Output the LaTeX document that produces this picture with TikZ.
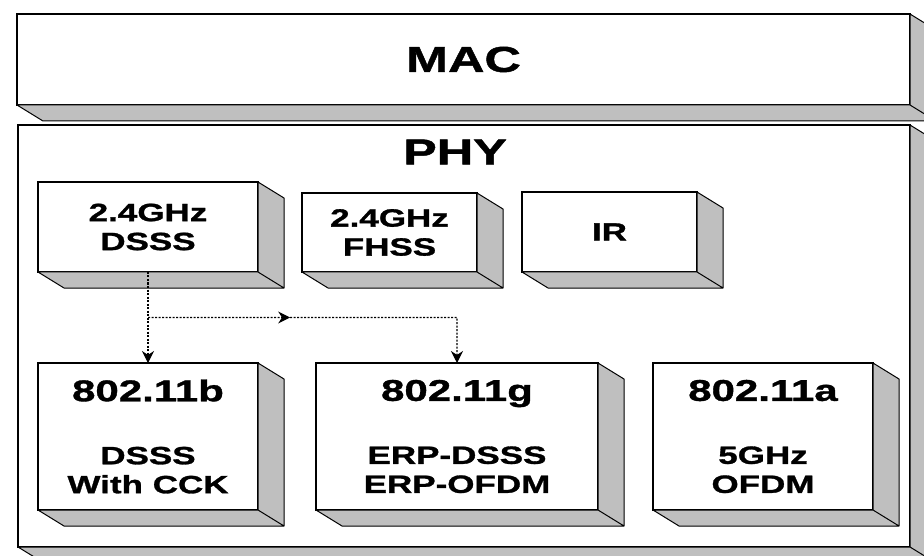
\documentclass[tikz,border=0pt]{standalone}
\usepackage{fontspec}
\setmainfont{Liberation Sans}[FakeStretch=1.4,FakeBold=1.2]
\usetikzlibrary{arrows.meta,positioning,calc}
\definecolor{ScanGray}{HTML}{BFBFBF}

\begin{document}
\begin{tikzpicture}[x=1pt,y=-1pt,
    layer/.style={
      draw,
      fill=white,
      line width=1.6pt,
      inner sep=0pt,
      outer sep=0pt,
      font=\bfseries\fontsize{36}{40}\selectfont
    },
    block/.style={
      draw,
      fill=white,
      line width=1.6pt,
      inner sep=0pt,
      outer sep=0pt,
      align=center,
      font=\bfseries\fontsize{25}{29}\selectfont
    },
    face/.style={fill=ScanGray,draw=black,line width=1pt,line join=round},
    link/.style={line width=1.1pt,dash pattern=on 2pt off 1.5pt,
      -{Stealth[length=12pt,width=12pt]}}
  ]
    \useasboundingbox (0,0) rectangle (924,556);

    % MAC layer
    \node[layer,minimum width=893pt,minimum height=91pt] (mac) at (463.5,59.5) {MAC};

    % PHY layer
    \node[layer,minimum width=892pt,minimum height=422pt] (phy) at (464,336) {};
    \node[font=\bfseries\fontsize{36}{40}\selectfont] (phylbl) at (455,152) {PHY};

    % Legacy PHYs
    \node[block,minimum width=220pt,minimum height=90pt] (dsss) at (148,227) {2.4GHz\\DSSS};
    \node[block,minimum width=175pt,minimum height=79pt] (fhss) at (389.5,232.5) {2.4GHz\\FHSS};
    \node[block,minimum width=175pt,minimum height=80pt] (ir) at (609.5,232) {IR};

    % 802.11 amendments
    \node[block,minimum width=220pt,minimum height=147pt] (b) at (148,436.5) {
      {\fontsize{30}{34}\selectfont 802.11b}\\[34pt]
      DSSS\\With CCK};
    \node[block,minimum width=282pt,minimum height=147pt] (g) at (457,436.5) {
      {\fontsize{30}{34}\selectfont 802.11g}\\[34pt]
      ERP-DSSS\\ERP-OFDM};
    \node[block,minimum width=220pt,minimum height=147pt] (a) at (763,436.5) {
      {\fontsize{30}{34}\selectfont 802.11a}\\[34pt]
      5GHz\\OFDM};

    % 3D sides
    \foreach \n in {mac,phy,dsss,fhss,ir,b,g,a}{
      \filldraw[face] (\n.north east) -- ++(26,16) -- ($(\n.south east)+(26,16)$)
        -- ($(\n.south west)+(26,16)$) -- (\n.south west) -- (\n.south east) -- cycle
        (\n.south east) -- ++(26,16);
    }

    % DSSS evolution
    \coordinate (split) at ($(dsss.south)!0.5!(b.north)$);
    \coordinate (midtip) at ($(split)!0.46!(split -| g.north)$);
    \draw[link] (dsss.south) -- (b.north);
    \draw[link] (split) -- (midtip);
    \draw[link] (midtip) -- (split -| g.north) -- (g.north);
  \end{tikzpicture}
\end{document}
